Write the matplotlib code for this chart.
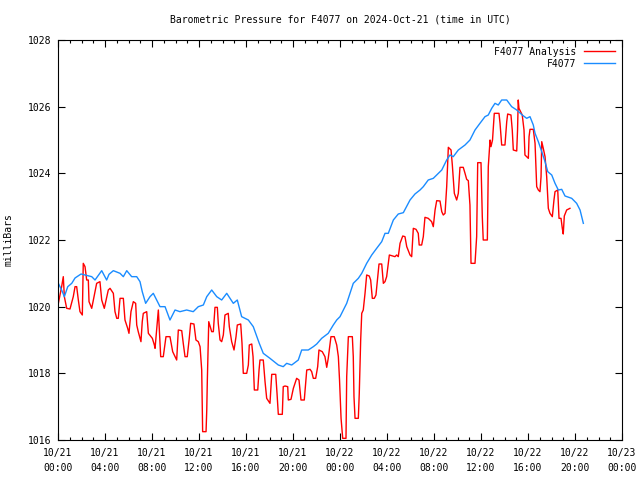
import numpy as np
import matplotlib
matplotlib.use('Agg')
import matplotlib.pyplot as plt
from matplotlib.ticker import MultipleLocator, FixedLocator

# hours since 2024-10-21 00:00 UTC, pressure in mbar
obs_hours = [0.03, 0.31, 0.54, 0.83, 1.17, 1.45, 1.96, 2.87, 3.15, 3.72, 4.14, 4.34, 4.71,
             5.28, 5.56, 5.85, 6.27, 6.70, 6.98, 7.17, 7.46, 7.83, 8.11, 8.54, 8.68, 9.11,
             9.53, 9.96, 10.38, 10.95, 11.51, 11.94, 12.37, 12.66, 13.08, 13.51, 13.93,
             14.36, 14.92, 15.26, 15.63, 16.20, 16.62, 17.13, 17.47, 18.04, 18.75, 19.17,
             19.46, 19.89, 20.45, 20.74, 21.30, 21.73, 22.02, 22.44, 23.00, 23.43, 23.72,
             24.00, 24.57, 25.13, 25.56, 25.85, 26.27, 26.70, 27.12, 27.55, 27.83, 28.11,
             28.54, 28.96, 29.39, 29.96, 30.38, 30.81, 31.09, 31.51, 31.94, 32.66, 33.08,
             33.36, 33.64, 34.07, 34.64, 35.06, 35.49, 35.91, 36.34, 36.62, 36.91, 37.19,
             37.47, 37.76, 38.19, 38.61, 39.04, 39.51, 39.89, 40.17, 40.45, 40.60, 40.88,
             41.17, 41.45, 41.68, 42.02, 42.30, 42.58, 42.87, 43.15, 43.72, 44.14, 44.43,
             44.71]
obs_mbar = [1020.7, 1020.5, 1020.3, 1020.6, 1020.7, 1020.86, 1020.98, 1020.9, 1020.8,
            1021.08, 1020.8, 1020.97, 1021.08, 1021.0, 1020.9, 1021.08, 1020.9, 1020.9,
            1020.75, 1020.45, 1020.1, 1020.3, 1020.4, 1020.1, 1020.0, 1020.0, 1019.6,
            1019.9, 1019.85, 1019.9, 1019.85, 1020.0, 1020.05, 1020.3, 1020.5, 1020.3,
            1020.2, 1020.4, 1020.1, 1020.2, 1019.7, 1019.6, 1019.4, 1018.9, 1018.6,
            1018.45, 1018.25, 1018.2, 1018.3, 1018.25, 1018.4, 1018.7, 1018.7, 1018.8,
            1018.88, 1019.05, 1019.2, 1019.45, 1019.6, 1019.7, 1020.1, 1020.7, 1020.85,
            1021.0, 1021.3, 1021.55, 1021.75, 1021.95, 1022.2, 1022.2, 1022.6, 1022.78,
            1022.82, 1023.2, 1023.38, 1023.5, 1023.6, 1023.8, 1023.85, 1024.1, 1024.4,
            1024.55, 1024.5, 1024.7, 1024.85, 1025.0, 1025.3, 1025.5, 1025.7, 1025.75,
            1025.95, 1026.1, 1026.05, 1026.2, 1026.2, 1026.0, 1025.9, 1025.75, 1025.65,
            1025.7, 1025.45, 1025.2, 1024.95, 1024.65, 1024.35, 1024.05, 1023.95, 1023.7,
            1023.5, 1023.52, 1023.32, 1023.25, 1023.1, 1022.9, 1022.5]

ana_hours = [0.03, 0.31, 0.45, 0.54, 0.74, 1.02, 1.30, 1.45, 1.59, 1.73, 1.87, 2.07, 2.15,
             2.30, 2.44, 2.58, 2.64, 2.87, 3.29, 3.57, 3.72, 3.94, 4.28, 4.43, 4.71, 4.85,
             5.00, 5.13, 5.28, 5.56, 5.70, 5.93, 6.04, 6.21, 6.41, 6.61, 6.70, 6.83, 7.06,
             7.17, 7.26, 7.55, 7.69, 8.03, 8.20, 8.26, 8.54, 8.74, 8.96, 9.19, 9.53, 9.76,
             9.96, 10.10, 10.24, 10.53, 10.66, 10.81, 11.00, 11.17, 11.29, 11.57, 11.74,
             11.94, 12.09, 12.23, 12.28, 12.31, 12.60, 12.66, 12.71, 12.83, 13.08, 13.22,
             13.36, 13.56, 13.64, 13.79, 13.93, 14.07, 14.21, 14.49, 14.58, 14.78, 14.98,
             15.15, 15.26, 15.55, 15.66, 15.77, 16.06, 16.20, 16.28, 16.49, 16.60, 16.71,
             17.00, 17.11, 17.19, 17.47, 17.62, 17.76, 18.04, 18.19, 18.53, 18.64, 18.75,
             19.09, 19.17, 19.32, 19.55, 19.60, 19.83, 20.03, 20.31, 20.51, 20.68, 20.96,
             21.17, 21.45, 21.59, 21.73, 21.93, 22.10, 22.21, 22.49, 22.72, 22.87, 23.00,
             23.23, 23.51, 23.72, 23.86, 23.96, 24.09, 24.23, 24.51, 24.57, 24.71, 25.05,
             25.13, 25.19, 25.28, 25.56, 25.64, 25.76, 25.85, 25.98, 26.13, 26.27, 26.49,
             26.61, 26.75, 26.92, 27.06, 27.21, 27.32, 27.55, 27.69, 27.83, 27.97, 28.20,
             28.49, 28.68, 28.82, 28.96, 29.11, 29.34, 29.53, 29.68, 29.96, 30.10, 30.24,
             30.47, 30.66, 30.74, 30.95, 31.09, 31.23, 31.51, 31.80, 31.94, 32.09, 32.23,
             32.51, 32.66, 32.79, 32.94, 33.08, 33.22, 33.45, 33.56, 33.73, 33.93, 34.07,
             34.21, 34.49, 34.64, 34.78, 34.92, 35.06, 35.15, 35.49, 35.63, 35.72, 36.00,
             36.11, 36.19, 36.54, 36.62, 36.77, 36.85, 36.98, 37.13, 37.53, 37.62, 37.76,
             38.04, 38.19, 38.27, 38.55, 38.66, 38.75, 39.04, 39.11, 39.17, 39.23, 39.51,
             39.66, 39.74, 40.03, 40.09, 40.17, 40.45, 40.60, 40.74, 40.88, 41.02, 41.11,
             41.17, 41.30, 41.45, 41.59, 41.73, 41.87, 42.07, 42.21, 42.30, 42.53, 42.64,
             42.81, 42.92, 43.00, 43.09, 43.29, 43.57]
ana_mbar = [1020.1, 1020.6, 1020.9, 1020.3, 1019.95, 1019.93, 1020.3, 1020.6, 1020.6,
            1020.2, 1019.85, 1019.75, 1021.3, 1021.2, 1020.8, 1020.8, 1020.15, 1019.95,
            1020.7, 1020.75, 1020.2, 1019.95, 1020.5, 1020.55, 1020.4, 1019.85, 1019.65,
            1019.65, 1020.25, 1020.25, 1019.6, 1019.35, 1019.2, 1019.85, 1020.15, 1020.1,
            1019.45, 1019.25, 1018.95, 1019.55, 1019.8, 1019.85, 1019.2, 1019.05, 1018.85,
            1018.75, 1019.9, 1018.5, 1018.5, 1019.1, 1019.1, 1018.65, 1018.5, 1018.4,
            1019.3, 1019.28, 1018.9, 1018.5, 1018.5, 1019.05, 1019.5, 1019.48, 1019.0,
            1018.95, 1018.8, 1018.1, 1016.9, 1016.25, 1016.25, 1016.9, 1017.8, 1019.55,
            1019.25, 1019.25, 1019.98, 1019.98, 1019.5, 1019.0, 1018.95, 1019.15, 1019.75,
            1019.8, 1019.4, 1018.95, 1018.7, 1019.1, 1019.45, 1019.48, 1018.9, 1018.0,
            1018.0, 1018.25, 1018.85, 1018.88, 1018.5, 1017.5, 1017.5, 1018.1, 1018.4,
            1018.4, 1017.75, 1017.25, 1017.1, 1017.97, 1017.97, 1017.4, 1016.77, 1016.77,
            1017.6, 1017.62, 1017.6, 1017.2, 1017.22, 1017.55, 1017.85, 1017.8, 1017.2,
            1017.2, 1018.1, 1018.12, 1018.05, 1017.85, 1017.85, 1018.2, 1018.7, 1018.65,
            1018.5, 1018.18, 1018.45, 1019.1, 1019.1, 1018.85, 1018.5, 1017.8, 1016.65,
            1016.05, 1016.05, 1017.9, 1019.1, 1019.1, 1018.5, 1017.3, 1016.65, 1016.65,
            1017.4, 1019.0, 1019.8, 1019.9, 1020.4, 1020.95, 1020.92, 1020.8, 1020.25,
            1020.25, 1020.35, 1020.9, 1021.28, 1021.28, 1020.7, 1020.75, 1020.9, 1021.55,
            1021.52, 1021.5, 1021.55, 1021.5, 1021.9, 1022.12, 1022.1, 1021.8, 1021.55,
            1021.5, 1022.35, 1022.32, 1022.2, 1021.85, 1021.85, 1022.1, 1022.68, 1022.65,
            1022.55, 1022.4, 1022.9, 1023.18, 1023.17, 1022.85, 1022.75, 1022.8, 1023.6,
            1024.78, 1024.7, 1024.25, 1023.4, 1023.2, 1023.4, 1024.18, 1024.18, 1024.0,
            1023.82, 1023.78, 1023.05, 1021.3, 1021.3, 1022.1, 1024.32, 1024.32, 1022.7,
            1022.0, 1022.0, 1024.2, 1025.0, 1024.8, 1025.0, 1025.8, 1025.8, 1025.5,
            1024.85, 1024.85, 1025.55, 1025.78, 1025.75, 1025.3, 1024.7, 1024.67, 1025.3,
            1026.2, 1025.95, 1025.75, 1025.3, 1024.55, 1024.45, 1025.1, 1025.32, 1025.32,
            1024.9, 1023.6, 1023.5, 1023.45, 1023.9, 1024.95, 1024.75, 1024.5, 1023.9,
            1022.95, 1022.8, 1022.7, 1023.2, 1023.45, 1023.5, 1022.65, 1022.65, 1022.35,
            1022.18, 1022.72, 1022.9, 1022.95]

xtick_hours = list(range(0, 49, 4))
xtick_labels = ['10/21\n00:00', '10/21\n04:00', '10/21\n08:00', '10/21\n12:00',
                '10/21\n16:00', '10/21\n20:00', '10/22\n00:00', '10/22\n04:00',
                '10/22\n08:00', '10/22\n12:00', '10/22\n16:00', '10/22\n20:00',
                '10/23\n00:00']

plt.rcParams['font.family'] = ['DejaVu Sans Mono']
plt.rcParams['font.size'] = 7

fig = plt.figure(figsize=(6.4, 4.8), dpi=100)
ax = fig.add_axes([58 / 640, 40 / 480, 564 / 640, 400 / 480])

ax.plot(ana_hours, ana_mbar, '-', color='#ff0000', lw=1.0, label='F4077 Analysis')
ax.plot(obs_hours, obs_mbar, '-', color='#1a8cff', lw=1.0, label='F4077')

ax.set_xlim(0, 48)
ax.set_ylim(1016, 1028)
ax.xaxis.set_major_locator(FixedLocator(xtick_hours))
ax.set_xticklabels(xtick_labels, linespacing=1.6)
ax.xaxis.set_minor_locator(MultipleLocator(1))
ax.yaxis.set_major_locator(MultipleLocator(2))
ax.yaxis.set_major_formatter(plt.FuncFormatter(lambda v, p: '%d' % v))
ax.tick_params(which='both', direction='in', top=True, right=True, width=0.8, colors='black')
ax.tick_params(which='major', length=5, pad=5)
ax.tick_params(which='minor', length=2.5)
ax.tick_params(axis='x', which='major', pad=6)
for s in ax.spines.values():
    s.set_linewidth(0.8)

ax.set_ylabel('milliBars', labelpad=10)
fig.text(340 / 640, 1 - 20 / 480, 'Barometric Pressure for F4077 on 2024-Oct-21 (time in UTC)',
         ha='center', va='center', fontsize=7)

leg = ax.legend(loc='upper right', frameon=False, markerfirst=False, handlelength=3.2,
                handletextpad=0.8, labelspacing=0.2, borderaxespad=0.3)
for t in leg.get_texts():
    t.set_ha('right')
leg._legend_box.align = 'right'

fig.savefig('out.png', dpi=100)
plt.close()
